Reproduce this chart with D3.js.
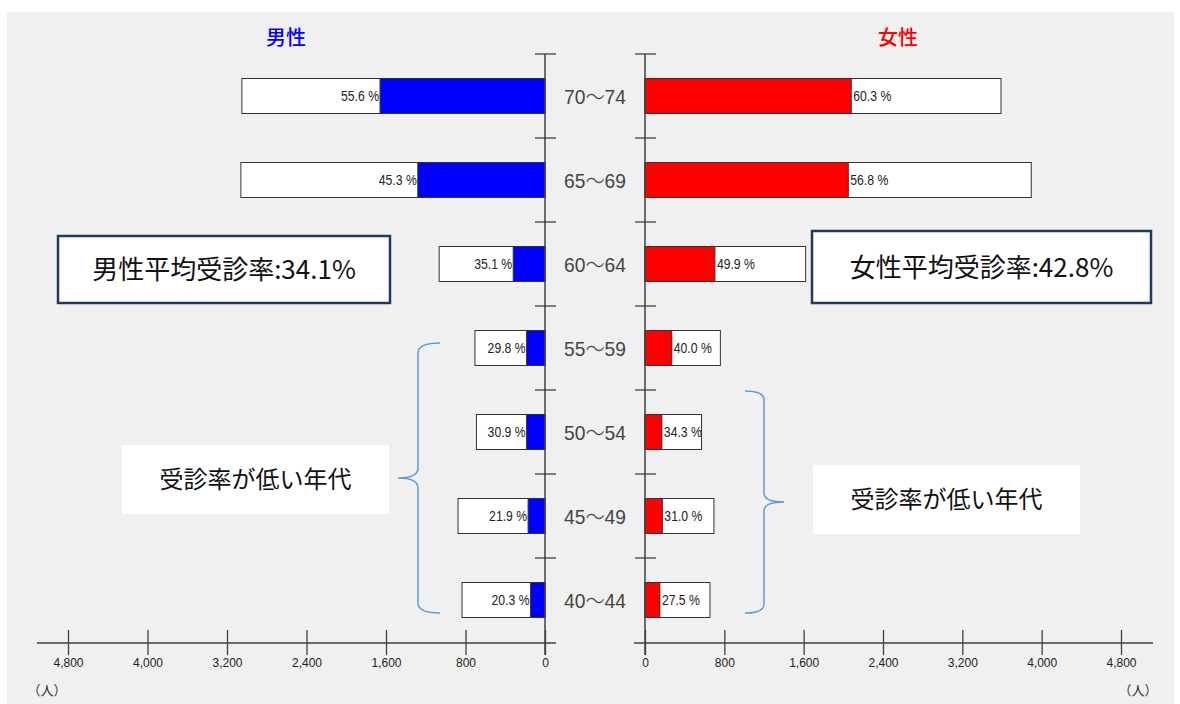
<!DOCTYPE html>
<html>
<head>
<meta charset="utf-8">
<script src="https://cdn.jsdelivr.net/npm/d3@7"></script>
<style>
  body { margin: 0; background: #fff; }
  svg text { font-family: "Liberation Sans", "Noto Sans CJK JP", sans-serif; }
  .jp { font-family: "Noto Sans CJK JP", sans-serif; }
</style>
</head>
<body>
<div id="chart"></div>
<script>
// 年代別 特定健診 受診者数 / 対象者数
const ageGroups = ["70～74", "65～69", "60～64", "55～59", "50～54", "45～49", "40～44"];
const malePop = [3050, 3060, 1065, 705, 690, 875, 835];
const maleExam = [1660, 1280, 320, 185, 185, 170, 145];
const maleRate = ["55.6", "45.3", "35.1", "29.8", "30.9", "21.9", "20.3"];
const femalePop = [3590, 3895, 1620, 760, 570, 695, 655];
const femaleExam = [2080, 2050, 705, 270, 170, 175, 150];
const femaleRate = ["60.3", "56.8", "49.9", "40.0", "34.3", "31.0", "27.5"];
const axisTicks = [0, 800, 1600, 2400, 3200, 4000, 4800];

const W = 1180, H = 704;
const svg = d3.select("#chart").append("svg").attr("width", W).attr("height", H);

svg.append("rect").attr("x", 7).attr("y", 12).attr("width", 1167).attr("height", 692).attr("fill", "#f0f0f0");

const xL = d3.scaleLinear().domain([0, 4800]).range([545, 68]);
const xR = d3.scaleLinear().domain([0, 4800]).range([645, 1121]);
const y = d3.scaleBand().domain(ageGroups).range([54, 642]).padding(0);
const barH = 35;
const axisY = 643;
const lineCol = "#404040";

const rows = ageGroups.map((g, i) => ({
  g, mp: malePop[i], me: maleExam[i], mr: maleRate[i],
  fp: femalePop[i], fe: femaleExam[i], fr: femaleRate[i]
}));
const by = d => y(d.g) + (y.bandwidth() - barH) / 2;

// male bars
const gm = svg.append("g");
gm.selectAll(".pop").data(rows).join("rect")
  .attr("x", d => xL(d.mp)).attr("y", by)
  .attr("width", d => xL(0) - xL(d.mp)).attr("height", barH)
  .attr("fill", "#fff").attr("stroke", "#333").attr("stroke-width", 1);
gm.selectAll(".exam").data(rows).join("rect")
  .attr("x", d => xL(d.me)).attr("y", by)
  .attr("width", d => xL(0) - xL(d.me)).attr("height", barH)
  .attr("fill", "#0000ff").attr("stroke", "#333").attr("stroke-width", 1);
gm.selectAll("text").data(rows).join("text")
  .attr("x", d => xL(d.me) - 1).attr("y", d => by(d) + barH / 2 + 5)
  .attr("text-anchor", "end").attr("font-size", 14).attr("fill", "#222")
  .attr("textLength", 38).attr("lengthAdjust", "spacingAndGlyphs")
  .text(d => d.mr + " %");

// female bars
const gf = svg.append("g");
gf.selectAll(".pop").data(rows).join("rect")
  .attr("x", xR(0)).attr("y", by)
  .attr("width", d => xR(d.fp) - xR(0)).attr("height", barH)
  .attr("fill", "#fff").attr("stroke", "#333").attr("stroke-width", 1);
gf.selectAll(".exam").data(rows).join("rect")
  .attr("x", xR(0)).attr("y", by)
  .attr("width", d => xR(d.fe) - xR(0)).attr("height", barH)
  .attr("fill", "#ff0000").attr("stroke", "#333").attr("stroke-width", 1);
gf.selectAll("text").data(rows).join("text")
  .attr("x", d => xR(d.fe) + 2).attr("y", d => by(d) + barH / 2 + 5)
  .attr("font-size", 14).attr("fill", "#222")
  .attr("textLength", 38).attr("lengthAdjust", "spacingAndGlyphs")
  .text(d => d.fr + " %");

// center axes
[545, 645].forEach(cx => {
  svg.append("line").attr("x1", cx).attr("x2", cx).attr("y1", 54).attr("y2", 655)
    .attr("stroke", lineCol).attr("stroke-width", 1.5);
  const edges = ageGroups.map(g => y(g));
  svg.selectAll(null).data(edges).join("line")
    .attr("x1", cx - 10).attr("x2", cx + 11).attr("y1", d => d).attr("y2", d => d)
    .attr("stroke", lineCol).attr("stroke-width", 1.3);
});

// age labels
svg.selectAll(".age").data(ageGroups).join("text")
  .attr("x", 595).attr("y", g => y(g) + y.bandwidth() / 2 + 7.5)
  .attr("text-anchor", "middle").attr("font-size", 21).attr("fill", "#444")
  .attr("font-weight", 300)
  .attr("textLength", 62).attr("lengthAdjust", "spacingAndGlyphs")
  .text(g => g);

// bottom axes
function bottomAxis(scale, x1, x2) {
  const g = svg.append("g").attr("transform", `translate(0,${axisY})`)
    .call(d3.axisBottom(scale).tickValues(axisTicks).tickFormat(d3.format(",")).tickSize(12));
  g.select(".domain").remove();
  g.selectAll(".tick line").attr("y1", -13).attr("y2", 12).attr("stroke", lineCol).attr("stroke-width", 1.3);
  g.selectAll(".tick text").attr("y", 15).attr("dy", "0.71em").attr("font-size", 12)
    .attr("fill", "#222").attr("font-family", "Liberation Sans");
  svg.append("line").attr("x1", x1).attr("x2", x2).attr("y1", axisY).attr("y2", axisY)
    .attr("stroke", lineCol).attr("stroke-width", 1.5);
}
bottomAxis(xL, 37, 556);
bottomAxis(xR, 634, 1153);

svg.append("text").attr("class", "jp").attr("x", 47).attr("y", 695).attr("text-anchor", "middle")
  .attr("font-size", 13).attr("fill", "#333").text("（人）");
svg.append("text").attr("class", "jp").attr("x", 1138).attr("y", 695).attr("text-anchor", "middle")
  .attr("font-size", 13).attr("fill", "#333").text("（人）");

// titles
svg.append("text").attr("class", "jp").attr("x", 286).attr("y", 45).attr("text-anchor", "middle")
  .attr("font-size", 20).attr("font-weight", 500).attr("fill", "#0000ff").text("男性");
svg.append("text").attr("class", "jp").attr("x", 898).attr("y", 45).attr("text-anchor", "middle")
  .attr("font-size", 20).attr("font-weight", 500).attr("fill", "#ff0000").text("女性");

// average boxes
function avgBox(x, yy, w, h, label) {
  svg.append("rect").attr("x", x).attr("y", yy).attr("width", w).attr("height", h)
    .attr("fill", "#fff").attr("stroke", "#1f3864").attr("stroke-width", 2.5);
  svg.append("text").attr("class", "jp").attr("x", x + w / 2).attr("y", yy + h / 2 + 9.5)
    .attr("text-anchor", "middle").attr("font-size", 26).attr("fill", "#111").text(label);
}
avgBox(58, 236, 332, 67, "男性平均受診率:34.1%");
avgBox(812, 231, 339, 72, "女性平均受診率:42.8%");

// low rate notes
function noteBox(x, yy, w, h) {
  svg.append("rect").attr("x", x).attr("y", yy).attr("width", w).attr("height", h).attr("fill", "#fff");
  svg.append("text").attr("class", "jp").attr("x", x + w / 2).attr("y", yy + h / 2 + 8.5)
    .attr("text-anchor", "middle").attr("font-size", 24).attr("fill", "#111").text("受診率が低い年代");
}
noteBox(122, 445, 267, 69);
noteBox(813, 465, 267, 69);

// braces
const braceCol = "#5b9bd5";
svg.append("path")
  .attr("d", "M440,343 Q418,343 418,353 L418,468 Q418,478 398,478 Q418,478 418,488 L418,603 Q418,613 440,613")
  .attr("fill", "none").attr("stroke", braceCol).attr("stroke-width", 1.5);
svg.append("path")
  .attr("d", "M745,391 Q764,391 764,400 L764,493 Q764,502 784,502 Q764,502 764,511 L764,604 Q764,613 745,613")
  .attr("fill", "none").attr("stroke", braceCol).attr("stroke-width", 1.5);
</script>
</body>
</html>
